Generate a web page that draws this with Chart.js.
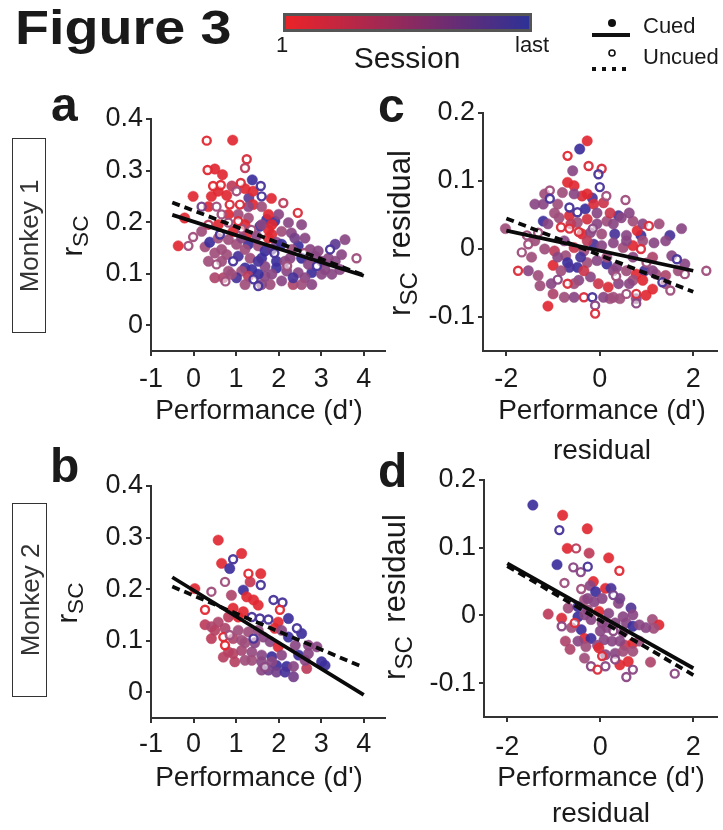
<!DOCTYPE html>
<html><head><meta charset="utf-8">
<script src="https://cdn.jsdelivr.net/npm/chart.js@4/dist/chart.umd.min.js"></script>
<style>
html,body{margin:0;padding:0;background:#fff;}
#wrap{position:relative;width:723px;height:830px;overflow:hidden;font-family:'Liberation Sans',Arial,Helvetica,sans-serif;color:#1a1a1a;}
canvas{position:absolute;left:0;top:0;}
.t{position:absolute;line-height:1;white-space:nowrap;}
.c{transform:translateX(-50%);}
.rot{position:absolute;line-height:1;white-space:nowrap;transform:translate(-50%,-50%) rotate(-90deg);}
.box{position:absolute;border:1.5px solid #333;box-sizing:border-box;}
.sub{font-size:0.78em;position:relative;top:0.28em;margin-right:0.55em;}
.bold{font-weight:bold;}
</style></head>
<body><div id="wrap">
<canvas id="ca" width="723" height="830"></canvas>
<canvas id="cb" width="723" height="830"></canvas>
<canvas id="cc" width="723" height="830"></canvas>
<canvas id="cd" width="723" height="830"></canvas>

<div class="t bold" style="left:15px;top:4px;font-size:48px;transform:scaleX(1.16);transform-origin:0 0;">Figure 3</div>
<div style="position:absolute;left:283px;top:13px;width:249px;height:19px;box-sizing:border-box;border:3px solid #555;background:linear-gradient(to right,#ec2328,#2e3196);"></div>
<div class="t" style="left:276px;top:34px;font-size:22px;">1</div>
<div class="t" style="left:515px;top:34px;font-size:22px;">last</div>
<div class="t c" style="left:407px;top:43px;font-size:30px;">Session</div>
<svg style="position:absolute;left:0;top:0;" width="723" height="90">
  <circle cx="612" cy="23" r="4" fill="#111"/>
  <line x1="592" y1="35" x2="630" y2="35" stroke="#111" stroke-width="4"/>
  <circle cx="612" cy="53" r="3" fill="none" stroke="#111" stroke-width="1.6"/>
  <line x1="592" y1="69" x2="632" y2="69" stroke="#111" stroke-width="4" stroke-dasharray="4,6"/>
</svg>
<div class="t" style="left:643px;top:15px;font-size:22px;">Cued</div>
<div class="t" style="left:643px;top:46px;font-size:22px;">Uncued</div>

<div class="t bold" style="left:51px;top:81px;font-size:48px;">a</div>
<div class="t bold" style="left:50px;top:442px;font-size:48px;">b</div>
<div class="t bold" style="left:378px;top:82px;font-size:48px;">c</div>
<div class="t bold" style="left:378px;top:447px;font-size:48px;">d</div>

<div class="box" style="left:12px;top:138px;width:34px;height:195px;"><div class="rot" style="left:50%;top:50%;font-size:26px;color:#333;">Monkey 1</div></div>
<div class="box" style="left:12px;top:503px;width:35px;height:194px;"><div class="rot" style="left:50%;top:50%;font-size:26px;color:#333;">Monkey 2</div></div>

<div class="rot" style="left:72px;top:236px;font-size:29px;">r<span class="sub" style="margin-right:0">SC</span></div>
<div class="rot" style="left:67px;top:603px;font-size:29px;">r<span class="sub" style="margin-right:0">SC</span></div>
<div class="rot" style="left:399px;top:233px;font-size:31px;">r<span class="sub">SC</span>residual</div>
<div class="rot" style="left:394px;top:597px;font-size:31px;">r<span class="sub">SC</span>residaul</div>

<div class="t c" style="left:259px;top:396px;font-size:28px;">Performance (d')</div>
<div class="t c" style="left:259px;top:763px;font-size:28px;">Performance (d')</div>
<div class="t c" style="left:602px;top:396px;font-size:28px;">Performance (d')</div>
<div class="t c" style="left:602px;top:436px;font-size:28px;">residual</div>
<div class="t c" style="left:601px;top:763px;font-size:28px;">Performance (d')</div>
<div class="t c" style="left:601px;top:799px;font-size:28px;">residual</div>
</div>
<script>
// ---- data: [performance, r_SC, session fraction (0 = first, 1 = last)] ----
const aXTicks = [-1, 0, 1, 2, 3, 4];
const aYTicks = [0, 0.1, 0.2, 0.3, 0.4];
const cXTicks = [-2, 0, 2];
const cYTicks = [-0.1, 0, 0.1, 0.2];

const aCued = [[0.92,0.359,0.05],[0.5,0.303,0.05],[0.68,0.292,0.05],[0.9,0.27,0.3],[1.38,0.282,0.95],[-0.01,0.25,0.05],[0.42,0.25,0.05],[0.78,0.252,0.05],[1.3,0.247,0.8],[1.83,0.246,0.05],[1.4,0.234,0.05],[1.6,0.23,0.5],[1.05,0.215,0.5],[1.29,0.208,0.5],[1.72,0.205,0.95],[1.91,0.202,0.95],[2.23,0.199,0.6],[1.56,0.192,0.95],[1.76,0.185,0.05],[1.84,0.176,0.05],[2.07,0.182,0.5],[2.3,0.179,0.6],[-0.36,0.154,0.05],[0.27,0.152,0.5],[0.38,0.161,0.95],[0.82,0.166,0.5],[1.01,0.157,0.5],[1.29,0.157,0.95],[1.52,0.154,0.5],[1.68,0.144,0.95],[1.95,0.161,0.6],[2.07,0.157,0.95],[2.46,0.154,0.95],[2.74,0.147,0.6],[2.93,0.144,0.6],[3.33,0.157,0.8],[3.56,0.166,0.6],[3.48,0.137,0.6],[3.17,0.13,0.6],[2.86,0.134,0.6],[2.54,0.13,0.95],[2.27,0.13,0.6],[1.95,0.124,0.95],[1.6,0.13,0.95],[1.33,0.13,0.5],[1.05,0.134,0.9],[0.78,0.137,0.5],[0.5,0.14,0.5],[1.21,0.111,0.95],[1.37,0.108,0.95],[1.13,0.105,0.5],[1.68,0.114,0.6],[1.95,0.111,0.95],[2.19,0.105,0.6],[2.46,0.102,0.6],[2.78,0.102,0.95],[3.09,0.108,0.6],[3.44,0.108,0.6],[0.5,0.092,0.4],[0.7,0.092,0.4],[1.8,0.079,0.5],[2.07,0.086,0.6],[2.34,0.079,0.4],[2.34,0.092,0.9],[2.62,0.092,0.6],[1.68,0.095,0.6],[1.01,0.092,0.9],[0.82,0.105,0.5],[1.29,0.095,0.3],[2.7,0.118,0.6],[3.01,0.124,0.6],[0.19,0.182,0.5],[0.93,0.182,0.05],[1.25,0.176,0.05],[1.48,0.173,0.6],[1.4,0.26,0.05],
  [-0.21,0.208,0.05],[0.58,0.169,0.5],[1.13,0.169,0.6],[1.76,0.169,0.05],[2.38,0.169,0.7],[2.62,0.169,0.6],[0.66,0.147,0.5],[1.21,0.147,0.5],[1.84,0.147,0.8],[2.31,0.147,0.5],[0.35,0.124,0.5],[0.66,0.124,0.5],[1.52,0.124,0.9],[2.15,0.124,0.6],[3.33,0.124,0.6],[0.89,0.099,0.5],[1.52,0.099,0.95],[1.84,0.099,0.6],[3.01,0.099,0.6],[3.25,0.099,0.6],[1.21,0.079,0.5],[1.6,0.079,0.6],[2.54,0.079,0.5],[2.78,0.079,0.6],[0.58,0.195,0.05],[1.21,0.195,0.05],[1.6,0.195,0.6],[1.84,0.195,0.05],[2.54,0.195,0.6],[0.82,0.215,0.05],[1.76,0.215,0.05],[2.0,0.215,0.6],[0.35,0.23,0.05],[1.29,0.23,0.6],[0.58,0.26,0.05],[1.21,0.265,0.05]];
const aUncued = [[0.31,0.358,0.05],[1.25,0.322,0.1],[1.21,0.305,0.3],[0.33,0.301,0.05],[0.46,0.27,0.05],[0.64,0.272,0.05],[1.11,0.276,0.1],[1.58,0.27,0.9],[1.01,0.26,0.5],[1.6,0.25,0.9],[2.11,0.237,0.3],[0.19,0.23,0.7],[0.54,0.23,0.5],[0.85,0.234,0.1],[1.09,0.234,0.1],[2.45,0.218,0.1],[0.66,0.215,0.5],[1.13,0.187,0.5],[1.36,0.185,0.5],[-0.12,0.154,0.5],[-0.01,0.171,0.5],[0.62,0.176,0.9],[3.21,0.147,0.9],[3.83,0.13,0.5],[0.54,0.118,0.5],[0.93,0.124,0.9],[1.41,0.089,0.9],[1.52,0.076,0.9],[0.82,0.199,0.5],[0.35,0.195,0.3],[1.05,0.202,0.1],
  [2.6,0.14,0.5],[1.9,0.14,0.9],[2.2,0.115,0.5],[0.75,0.085,0.5],[2.9,0.115,0.9]];
const aCuedFit = [[-0.5,0.214],[4,0.096]];
const aUncuedFit = [[-0.5,0.238],[4,0.097]];

const bCued = [[0.58,0.295,0.05],[1.13,0.269,0.05],[0.66,0.25,0.05],[0.85,0.24,0.95],[1.58,0.23,0.05],[1.33,0.214,0.25],[1.17,0.198,0.95],[0.03,0.201,0.05],[0.89,0.188,0.4],[1.25,0.185,0.05],[1.41,0.179,0.05],[1.52,0.169,0.05],[0.93,0.163,0.05],[1.17,0.156,0.05],[1.99,0.136,0.05],[2.23,0.143,0.95],[0.58,0.136,0.4],[0.74,0.124,0.4],[0.27,0.131,0.3],[0.42,0.127,0.4],[1.05,0.12,0.5],[1.29,0.117,0.5],[1.52,0.12,0.55],[1.91,0.124,0.05],[2.23,0.107,0.95],[2.54,0.114,0.95],[0.42,0.104,0.3],[0.93,0.104,0.4],[1.13,0.101,0.5],[1.64,0.107,0.6],[1.8,0.098,0.6],[1.99,0.088,0.05],[2.39,0.091,0.6],[2.7,0.091,0.6],[2.9,0.088,0.6],[2.47,0.072,0.95],[3.01,0.059,0.95],[3.09,0.052,0.95],[0.82,0.078,0.35],[0.93,0.075,0.35],[1.13,0.081,0.45],[1.37,0.078,0.55],[1.6,0.072,0.6],[1.84,0.069,0.95],[2.07,0.072,0.6],[2.7,0.075,0.6],[0.97,0.059,0.35],[0.7,0.068,0.35],[1.37,0.062,0.5],[1.6,0.059,0.6],[1.95,0.052,0.95],[2.19,0.05,0.95],[1.95,0.039,0.7],[2.15,0.039,0.9],[2.35,0.03,0.7],[2.66,0.046,0.3],[2.35,0.05,0.6],[1.84,0.059,0.6],
  [1.21,0.096,0.5],[1.44,0.096,0.6],[1.21,0.062,0.5],[2.62,0.062,0.6],[1.6,0.043,0.6],[1.76,0.043,0.7],[0.5,0.12,0.35],[2.07,0.12,0.6],[0.82,0.146,0.3],[1.05,0.146,0.05]];
const bUncued = [[0.93,0.258,0.9],[1.29,0.23,0.05],[0.74,0.214,0.5],[1.58,0.208,0.9],[0.42,0.195,0.5],[1.88,0.179,0.9],[2.09,0.174,0.9],[2.03,0.16,0.05],[0.27,0.16,0.05],[1.37,0.146,0.9],[1.56,0.143,0.9],[1.76,0.141,0.9],[2.43,0.124,0.9],[0.7,0.107,0.05],[0.85,0.111,0.5],[0.74,0.091,0.05],[1.41,0.104,0.9],[1.68,0.049,0.6]];
const bCuedFit = [[-0.5,0.223],[4,-0.005]];
const bUncuedFit = [[-0.5,0.205],[4,0.048]];

const cCued = [[-0.27,0.159,0.05],[-0.43,0.147,0.95],[-0.58,0.115,0.6],[-0.69,0.098,0.05],[-0.55,0.093,0.05],[-0.8,0.083,0.5],[-0.38,0.078,0.1],[-0.16,0.075,0.9],[-1.39,0.066,0.6],[-1.21,0.066,0.6],[-0.9,0.066,0.5],[-0.31,0.059,0.95],[-0.13,0.066,0.1],[0.08,0.068,0.2],[-1.21,0.041,0.95],[-0.87,0.046,0.5],[-0.65,0.049,0.1],[-0.48,0.039,0.5],[-0.27,0.044,0.15],[-0.06,0.037,0.6],[0.15,0.041,0.5],[0.4,0.049,0.9],[0.46,0.046,0.6],[0.71,0.041,0.5],[1.5,0.02,0.9],[1.75,0.03,0.6],[-0.38,0.022,0.05],[-0.2,0.024,0.6],[0.04,0.022,0.5],[0.32,0.022,0.9],[0.57,0.02,0.6],[0.88,0.02,0.95],[0.8,0.027,0.05],[-2.02,0.03,0.5],[-1.18,0.0,0.5],[-0.97,-0.003,0.3],[-0.73,-0.01,0.5],[-0.55,0.002,0.2],[-0.34,-0.003,0.5],[-0.13,0.007,0.9],[0.04,0.005,0.6],[0.29,0.009,0.6],[0.5,0.002,0.5],[0.71,0.005,0.05],[1.16,0.009,0.6],[1.54,-0.01,0.6],[1.82,-0.022,0.6],[-1.32,-0.039,0.5],[-1.0,-0.024,0.05],[-0.69,-0.02,0.95],[-0.48,-0.027,0.95],[-0.65,-0.027,0.9],[-0.27,-0.02,0.5],[-0.06,-0.017,0.6],[0.15,-0.022,0.95],[0.36,-0.027,0.6],[0.57,-0.032,0.5],[0.78,-0.037,0.05],[0.96,-0.032,0.9],[1.2,-0.037,0.5],[1.41,-0.039,0.4],[-1.28,-0.054,0.5],[-1.0,-0.066,0.4],[-0.45,-0.046,0.6],[-0.2,-0.041,0.6],[-0.03,-0.051,0.2],[0.18,-0.056,0.1],[0.4,-0.051,0.6],[0.71,-0.046,0.5],[0.92,-0.046,0.05],[1.13,-0.059,0.05],[0.99,-0.068,0.05],[-1.11,-0.084,0.05],[0.22,-0.073,0.5],[0.43,-0.073,0.5],[0.78,-0.073,0.6],
  [-0.97,0.053,0.5],[-0.06,0.053,0.6],[0.22,0.053,0.2],[0.63,0.053,0.6],[-1.11,0.037,0.6],[-0.62,0.037,0.3],[0.29,0.037,0.6],[0.92,0.037,0.6],[1.27,0.037,0.5],[-1.39,0.012,0.5],[-0.76,0.012,0.6],[-0.27,0.012,0.3],[0.57,0.012,0.6],[0.92,0.012,0.5],[1.41,0.012,0.6],[-1.46,-0.012,0.5],[-0.9,-0.012,0.6],[-0.41,-0.012,0.9],[0.15,-0.012,0.5],[0.71,-0.012,0.6],[1.13,-0.012,0.4],[-1.53,-0.032,0.6],[-0.83,-0.032,0.5],[-0.34,-0.032,0.2],[0.29,-0.032,0.6],[1.13,-0.032,0.6],[1.68,-0.032,0.5],[-1.04,-0.051,0.6],[-0.55,-0.051,0.5],[0.63,-0.051,0.6],[1.41,-0.051,0.5],[-0.76,-0.071,0.5],[-0.55,-0.071,0.6],[0.08,-0.071,0.6],[0.29,-0.071,0.5],[-1.18,0.081,0.5],[-0.55,0.081,0.6],[-0.27,0.081,0.05]];
const cUncued = [[-0.69,0.137,0.05],[-0.24,0.122,0.1],[0.04,0.118,0.1],[-0.03,0.11,0.9],[0.0,0.091,0.9],[-1.07,0.086,0.5],[0.14,0.078,0.5],[0.55,0.072,0.5],[-1.07,0.074,0.9],[-0.65,0.061,0.9],[-0.48,0.054,0.9],[1.05,0.034,0.1],[-0.83,0.032,0.1],[-0.65,0.03,0.1],[-1.56,0.02,0.5],[-1.32,0.024,0.5],[-1.67,-0.005,0.5],[-1.53,0.007,0.5],[0.88,0.0,0.1],[1.65,-0.015,0.9],[2.28,-0.032,0.5],[-1.75,-0.032,0.1],[1.82,-0.037,0.5],[-0.69,-0.051,0.1],[0.78,-0.066,0.1],[1.34,-0.049,0.9],[1.51,-0.061,0.5],[-0.34,-0.071,0.1],[-0.16,-0.071,0.9],[-0.1,-0.083,0.6],[-0.1,-0.095,0.1],[0.57,-0.066,0.5],[0.78,-0.08,0.6],
  [-0.45,0.025,0.1],[0.35,-0.04,0.5],[-0.9,-0.045,0.6],[1.0,-0.02,0.5],[-0.15,0.03,0.6]];
const cCuedFit = [[-2,0.027],[2,-0.032]];
const cUncuedFit = [[-2,0.045],[2,-0.063]];

const dCued = [[-1.45,0.163,0.95],[-0.81,0.148,0.05],[-0.28,0.128,0.05],[-0.71,0.099,0.05],[-0.24,0.092,0.3],[0.18,0.085,0.05],[-0.93,0.075,0.95],[-0.15,0.05,0.05],[-0.22,0.044,0.6],[-0.1,0.035,0.95],[0.11,0.04,0.05],[0.23,0.04,0.9],[0.04,0.025,0.6],[-0.13,0.02,0.6],[-0.34,0.023,0.5],[0.39,0.018,0.6],[0.66,0.011,0.85],[-0.69,0.011,0.5],[-0.48,0.013,0.95],[-0.27,0.008,0.5],[-0.03,0.006,0.05],[0.18,0.003,0.6],[-1.12,0.002,0.3],[0.49,-0.002,0.6],[-0.83,-0.004,0.1],[-0.48,-0.002,0.95],[-0.2,-0.006,0.6],[0.04,-0.011,0.6],[0.32,-0.011,0.6],[0.56,-0.011,0.6],[0.7,-0.016,0.95],[0.84,-0.014,0.6],[1.12,-0.006,0.5],[1.26,-0.014,0.05],[1.15,-0.019,0.5],[-0.41,-0.021,0.95],[0.0,-0.023,0.6],[0.49,-0.025,0.6],[-0.75,-0.038,0.4],[-0.34,-0.034,0.05],[-0.2,-0.034,0.95],[-0.06,-0.044,0.6],[0.08,-0.036,0.6],[0.25,-0.038,0.6],[0.53,-0.044,0.3],[0.7,-0.041,0.05],[-0.65,-0.05,0.4],[-0.31,-0.046,0.5],[-0.03,-0.048,0.05],[0.11,-0.058,0.6],[0.32,-0.056,0.6],[0.49,-0.053,0.5],[0.7,-0.053,0.5],[0.42,-0.073,0.05],[0.6,-0.068,0.05],[1.08,-0.069,0.4],
  [-0.27,0.025,0.6],[0.42,0.025,0.7],[-0.34,0.001,0.6],[0.7,0.001,0.6],[-0.62,-0.018,0.5],[0.15,-0.018,0.6],[0.98,-0.018,0.6],[-0.48,-0.038,0.6],[0.42,-0.038,0.6],[0.84,-0.038,0.5],[-0.34,-0.063,0.5]];
const dUncued = [[-0.88,0.126,0.9],[-0.52,0.099,0.3],[0.41,0.066,0.05],[-0.58,0.071,0.6],[-0.42,0.064,0.6],[-0.27,0.072,0.9],[-0.77,0.048,0.5],[-0.41,0.039,0.5],[0.28,0.03,0.7],[-0.55,-0.011,0.1],[-0.83,-0.016,0.6],[0.28,-0.023,0.6],[0.04,-0.06,0.1],[0.32,-0.065,0.6],[-0.2,-0.075,0.6],[-0.06,-0.08,0.1],[0.11,-0.075,0.6],[0.7,-0.08,0.6],[0.56,-0.091,0.6],[1.6,-0.086,0.6]];
const dCuedFit = [[-2,0.077],[2,-0.078]];
const dUncuedFit = [[-2,0.073],[2,-0.088]];

// ---- styling helpers ----
const STOPS = [[0,[232,36,42]],[0.5,[160,78,124]],[1,[50,44,160]]];
function sessionColor(s, a) {
  let i = s <= 0.5 ? 0 : 1;
  const [s0,c0] = STOPS[i], [s1,c1] = STOPS[i+1];
  const f = (s - s0) / (s1 - s0);
  const c = c0.map((v,k) => Math.round(v + (c1[k]-v)*f));
  return `rgba(${c[0]},${c[1]},${c[2]},${a})`;
}
const W = 723, H = 830, YW = 60, XH = 45;
const FONT = "'Liberation Sans', Arial, Helvetica, sans-serif";

function makePanel(id, p) {
  const ax = (vals, extra) => Object.assign({
    type: 'linear',
    afterBuildTicks: s => { s.ticks = vals.map(v => ({value: v})); },
    grid: {display: true, drawOnChartArea: false, drawTicks: true, tickLength: 5, color: '#333', lineWidth: 2},
    border: {display: true, color: '#333', width: 2},
    ticks: {color: '#1a1a1a', font: {family: FONT, size: 27}, callback: v => String(v), maxRotation: 0, autoSkip: false}
  }, extra);
  const xs = ax(p.xTicks, {min: p.xMin, max: p.xMax, position: 'bottom', afterFit: s => { s.height = XH; }});
  xs.ticks.padding = p.xPad;
  const ys = ax(p.yTicks, {min: p.yMin, max: p.yMax, position: 'left', afterFit: s => { s.width = YW; }});
  ys.ticks.padding = 3;
  const pts = arr => arr.map(d => ({x: d[0], y: d[1]}));
  new Chart(document.getElementById(id), {
    type: 'scatter',
    data: {datasets: [
      {data: pts(p.cuedFit), showLine: true, borderColor: '#0a0a0a', borderWidth: 3.8, pointRadius: 0, order: 0},
      {data: pts(p.uncuedFit), showLine: true, borderColor: '#0a0a0a', borderWidth: 3.8, borderDash: [8, 5], pointRadius: 0, order: 0},
      {data: pts(p.uncued), pointRadius: 4, pointBorderWidth: 2.4,
        pointBackgroundColor: 'rgba(255,255,255,0.55)',
        pointBorderColor: p.uncued.map(d => sessionColor(d[2], 0.95)), order: 1},
      {data: pts(p.cued), pointRadius: 5.2, pointBorderWidth: 0.5,
        pointBackgroundColor: p.cued.map(d => sessionColor(d[2], 0.92)),
        pointBorderColor: p.cued.map(d => sessionColor(d[2], 0.92)), order: 2}
    ]},
    options: {
      responsive: false, maintainAspectRatio: false, animation: false,
      layout: {padding: {left: p.l - YW, right: W - p.r, top: p.t, bottom: H - p.b - XH}},
      plugins: {legend: {display: false}, tooltip: {enabled: false}},
      scales: {x: xs, y: ys}
    }
  });
}

makePanel('ca', {l:151, r:385, t:119, b:351, xMin:-1, xMax:4.5, yMin:-0.05, yMax:0.4, xTicks:aXTicks, yTicks:aYTicks, xPad:7,
  cued:aCued, uncued:aUncued, cuedFit:aCuedFit, uncuedFit:aUncuedFit});
makePanel('cb', {l:151, r:385, t:486, b:718, xMin:-1, xMax:4.5, yMin:-0.05, yMax:0.4, xTicks:aXTicks, yTicks:aYTicks, xPad:5,
  cued:bCued, uncued:bUncued, cuedFit:bCuedFit, uncuedFit:bUncuedFit});
makePanel('cc', {l:483, r:723, t:113, b:351, xMin:-2.5, xMax:2.5, yMin:-0.15, yMax:0.2, xTicks:cXTicks, yTicks:cYTicks, xPad:7,
  cued:cCued, uncued:cUncued, cuedFit:cCuedFit, uncuedFit:cUncuedFit});
makePanel('cd', {l:484, r:723, t:480, b:717, xMin:-2.5, xMax:2.5, yMin:-0.15, yMax:0.2, xTicks:cXTicks, yTicks:cYTicks, xPad:9,
  cued:dCued, uncued:dUncued, cuedFit:dCuedFit, uncuedFit:dUncuedFit});
</script>
</body></html>
